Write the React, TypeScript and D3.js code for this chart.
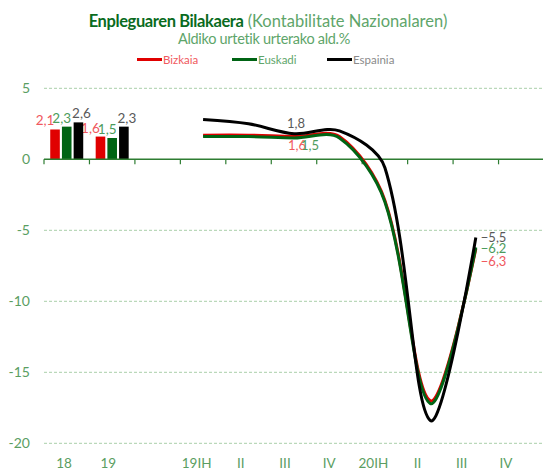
import React, { useEffect, useRef } from 'react';
import * as d3 from 'd3';

const categories: string[] = ['18', '19', '', '19IH', 'II', 'III', 'IV', '20IH', 'II', 'III', 'IV'];
const series: string[] = ['Bizkaia', 'Euskadi', 'Espainia'];

// urteko tasak (barrak)
const barBizkaia: number[] = [2.1, 1.6];
const barEuskadi: number[] = [2.3, 1.5];
const barEspainia: number[] = [2.6, 2.3];

// hiruhilekoak 19IH .. 20III (lerroak)
const lineBizkaia: number[] = [1.7, 1.7, 1.6, 1.6, -2.9, -17.0, -6.3];
const lineEuskadi: number[] = [1.6, 1.6, 1.5, 1.5, -3.0, -17.2, -6.2];
const lineEspainia: number[] = [2.8, 2.5, 1.8, 2.0, -0.6, -18.4, -5.5];

const yTicks: number[] = [5, 0, -5, -10, -15, -20];

const colors = ['#e00000', '#006414', '#000000'];
const labelColors = ['#f0595e', '#4c9c5c', '#595959'];
const legendColors = ['#f0595e', '#5ea56a', '#8a8a8a'];
const axisGreen = '#5a9e62';

const W = 543;
const H = 471;

const fmt = (v: number) => d3.format('.1f')(v).replace('.', ',');

// excel-ish smoothing: bezier handles scaled by the neighbouring segment lengths
const smoothPath = (pts: [number, number][]) => {
    const k = 1 / 3;
    const ctrl = pts.map((pt, i) => {
        if (i === 0 || i === pts.length - 1) return { b: pt, a: pt };
        const p0 = pts[i - 1];
        const p2 = pts[i + 1];
        const d01 = Math.hypot(pt[0] - p0[0], pt[1] - p0[1]);
        const d12 = Math.hypot(p2[0] - pt[0], p2[1] - pt[1]);
        const vx = p2[0] - p0[0];
        const vy = p2[1] - p0[1];
        const kb = (k * d01) / (d01 + d12);
        const ka = (k * d12) / (d01 + d12);
        return {
            b: [pt[0] - vx * kb, pt[1] - vy * kb] as [number, number],
            a: [pt[0] + vx * ka, pt[1] + vy * ka] as [number, number],
        };
    });
    const p = d3.path();
    p.moveTo(pts[0][0], pts[0][1]);
    for (let i = 1; i < pts.length; i++) {
        p.bezierCurveTo(ctrl[i - 1].a[0], ctrl[i - 1].a[1], ctrl[i].b[0], ctrl[i].b[1], pts[i][0], pts[i][1]);
    }
    return p.toString();
};

const App = () => {
    const ref = useRef<SVGSVGElement>(null);

    useEffect(() => {
        const svg = d3.select(ref.current);
        svg.selectAll('*').remove();
        svg.attr('width', W).attr('height', H).style('font-family', 'Lato, sans-serif');

        const idx = categories.map((_, i) => i);
        const x = d3.scaleBand<number>().domain(idx).range([44, 544]).padding(0);
        const xLabels = d3.scaleBand<number>().domain(idx).range([42, 528]).padding(0);
        const y = d3.scaleLinear().domain([-20, 5]).range([443.3, 88.3]);

        // gridlines
        svg.append('g')
            .selectAll('line')
            .data(yTicks.filter(t => t !== 0))
            .enter()
            .append('line')
            .attr('x1', 44)
            .attr('x2', W)
            .attr('y1', d => y(d))
            .attr('y2', d => y(d))
            .attr('stroke', '#a9cfa9')
            .attr('stroke-width', 1)
            .attr('stroke-dasharray', '3,2');

        // y labels
        svg.append('g')
            .selectAll('text')
            .data(yTicks)
            .enter()
            .append('text')
            .attr('x', 30)
            .attr('y', d => y(d))
            .attr('dy', '0.35em')
            .attr('text-anchor', 'end')
            .attr('fill', axisGreen)
            .style('font-size', '14px')
            .text(d => String(d));

        // bars
        const barData = [barBizkaia, barEuskadi, barEspainia];
        const x1 = d3.scaleBand<number>().domain([0, 1, 2]).range([0, 33]).paddingInner(0.18);
        const barDx = [-10, -5, 3];
        barData.forEach((vals, s) => {
            const g = svg.append('g');
            g.selectAll('rect')
                .data(vals)
                .enter()
                .append('rect')
                .attr('x', (d, i) => x(i)! + x.bandwidth() / 2 - 16.5 + x1(s)!)
                .attr('y', d => y(d))
                .attr('width', x1.bandwidth())
                .attr('height', d => y(0) - y(d))
                .attr('fill', colors[s]);
            g.selectAll('text')
                .data(vals)
                .enter()
                .append('text')
                .attr('x', (d, i) => x(i)! + x.bandwidth() / 2 - 16.5 + x1(s)! + x1.bandwidth() / 2 + barDx[s])
                .attr('y', d => y(d) - 4)
                .attr('text-anchor', 'middle')
                .attr('fill', labelColors[s])
                .style('font-size', '13.5px')
                .text(d => fmt(d));
        });

        // zero axis
        svg.append('line')
            .attr('x1', 44)
            .attr('x2', W)
            .attr('y1', y(0))
            .attr('y2', y(0))
            .attr('stroke', '#2e7d32')
            .attr('stroke-width', 1.5);
        svg.append('g')
            .selectAll('line')
            .data(idx)
            .enter()
            .append('line')
            .attr('x1', d => x(d)!)
            .attr('x2', d => x(d)!)
            .attr('y1', y(0))
            .attr('y2', y(0) + 5)
            .attr('stroke', '#2e7d32')
            .attr('stroke-width', 1.2);

        // lines
        const lineData = [lineBizkaia, lineEuskadi, lineEspainia];
        const start = 3;
        const cx = (i: number) => x(start + i)! + x.bandwidth() / 2;
        lineData.forEach((vals, s) => {
            svg.append('path')
                .attr('d', smoothPath(vals.map((v, i) => [cx(i), y(v)] as [number, number])))
                .attr('fill', 'none')
                .attr('stroke', colors[s])
                .attr('stroke-width', 3)
                .attr('stroke-linejoin', 'round');
        });

        // line labels: 19III and 20III
        const midOff = [[3, 13.5], [16, 12], [2, -5.5]];
        const endOff = [[5, 17], [5, 5.5], [5, 4.5]];
        lineData.forEach((vals, s) => {
            const mi = 2;
            svg.append('text')
                .attr('x', cx(mi) + midOff[s][0])
                .attr('y', y(vals[mi]) + midOff[s][1])
                .attr('text-anchor', 'middle')
                .attr('fill', labelColors[s])
                .style('font-size', '13px')
                .text(fmt(vals[mi]));
            const ei = vals.length - 1;
            svg.append('text')
                .attr('x', cx(ei) + endOff[s][0])
                .attr('y', y(vals[ei]) + endOff[s][1])
                .attr('text-anchor', 'start')
                .attr('fill', labelColors[s])
                .style('font-size', '13px')
                .text(fmt(vals[ei]));
        });

        // x labels
        svg.append('g')
            .selectAll('text')
            .data(idx)
            .enter()
            .append('text')
            .attr('x', d => xLabels(d)! + xLabels.bandwidth() / 2)
            .attr('y', 468)
            .attr('text-anchor', 'middle')
            .attr('fill', axisGreen)
            .style('font-size', '13.5px')
            .text(d => categories[d]);

        // title
        const title = svg.append('text')
            .attr('x', 268)
            .attr('y', 27)
            .attr('text-anchor', 'middle')
            .style('font-size', '16.5px');
        title.append('tspan')
            .attr('fill', '#0a6b1e')
            .style('font-weight', 'bold')
            .style('letter-spacing', '-0.4px')
            .text('Enpleguaren Bilakaera');
        title.append('tspan')
            .attr('fill', '#5ea56a')
            .text(' (Kontabilitate Nazionalaren)');
        svg.append('text')
            .attr('x', 264)
            .attr('y', 44)
            .attr('text-anchor', 'middle')
            .attr('fill', '#5ea56a')
            .style('font-size', '14.5px')
            .style('letter-spacing', '-0.3px')
            .text('Aldiko urtetik urterako ald.%');

        // legend
        const lx = d3.scalePoint<string>().domain(series).range([137, 327]);
        const leg = svg.append('g')
            .selectAll('g')
            .data(series)
            .enter()
            .append('g')
            .attr('transform', d => `translate(${lx(d)},59.5)`);
        leg.append('line')
            .attr('x1', 0)
            .attr('x2', 25)
            .attr('stroke', (d, i) => colors[i])
            .attr('stroke-width', 3);
        leg.append('text')
            .attr('x', 26)
            .attr('y', 4)
            .attr('fill', (d, i) => legendColors[i])
            .style('font-size', '11.5px')
            .text(d => d);
    }, []);

    return (
        <svg ref={ref} style={{ position: 'absolute', left: 0, top: 0 }}></svg>
    );
};

export default App;
